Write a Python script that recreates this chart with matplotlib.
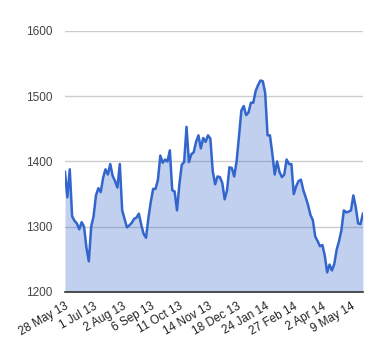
import matplotlib
matplotlib.use('Agg')
import matplotlib.pyplot as plt

# price, one reading every 2 trading days (28 May 13 .. late May 14)
prices = [
    1384, 1345, 1388, 1316, 1309, 1305, 1296, 1307, 1300, 1268,
    1247, 1300, 1316, 1348, 1359, 1353, 1375, 1388, 1380, 1396,
    1378, 1370, 1360, 1396, 1325, 1312, 1299, 1302, 1306, 1312,
    1314, 1320, 1303, 1289, 1283, 1313, 1338, 1358, 1358, 1372,
    1409, 1398, 1403, 1400, 1417, 1356, 1354, 1325, 1365, 1395,
    1399, 1453, 1399, 1411, 1414, 1430, 1440, 1420, 1436, 1430,
    1440, 1435, 1385, 1365, 1377, 1376, 1367, 1342, 1356, 1391,
    1390, 1377, 1400, 1438, 1478, 1485, 1471, 1475, 1490, 1490,
    1508, 1517, 1524, 1523, 1505, 1440, 1440, 1412, 1380, 1400,
    1384, 1376, 1380, 1403, 1396, 1396, 1350, 1362, 1370, 1372,
    1356, 1345, 1333, 1318, 1310, 1285, 1278, 1270, 1272, 1256,
    1230, 1242, 1233, 1243, 1265, 1278, 1295, 1325, 1322, 1323,
    1325, 1348, 1330, 1305, 1304, 1320,
]
date_labels = ['28 May 13', '1 Jul 13', '2 Aug 13', '6 Sep 13', '11 Oct 13',
               '14 Nov 13', '18 Dec 13', '24 Jan 14', '27 Feb 14', '2 Apr 14',
               '9 May 14']
label_step = 12
y_ticks = [1200, 1300, 1400, 1500, 1600]

plt.rcParams['font.family'] = ['Liberation Sans', 'DejaVu Sans']

fig = plt.figure(figsize=(3.8, 3.6), dpi=100)
ax = fig.add_axes([0.171, 0.189, 0.784, 0.725])

x = list(range(len(prices)))
ax.fill_between(x, prices, 1200, color='#3366cc', alpha=0.3, linewidth=0, zorder=2)
ax.plot(x, prices, color='#3366cc', linewidth=1.8, zorder=3)

ax.set_xlim(0, len(prices) - 1)
ax.set_ylim(1200, 1600)
ax.set_yticks(y_ticks)
ax.set_yticklabels([str(v) for v in y_ticks], fontsize=8.5, color='#444444')
ax.set_xticks([i * label_step for i in range(len(date_labels))])
ax.set_xticklabels(date_labels, rotation=30, ha='right', rotation_mode='anchor',
                   fontsize=8.5, color='#222222')
ax.tick_params(length=0, pad=9)
ax.tick_params(axis='x', pad=6)

ax.grid(axis='y', color='#cccccc', linewidth=1, zorder=1)
ax.set_axisbelow(True)
for s in ['top', 'right', 'left']:
    ax.spines[s].set_visible(False)
ax.spines['bottom'].set_color('#333333')
ax.spines['bottom'].set_linewidth(1.2)
ax.spines['bottom'].set_zorder(4)

fig.savefig('out.png', dpi=100)
